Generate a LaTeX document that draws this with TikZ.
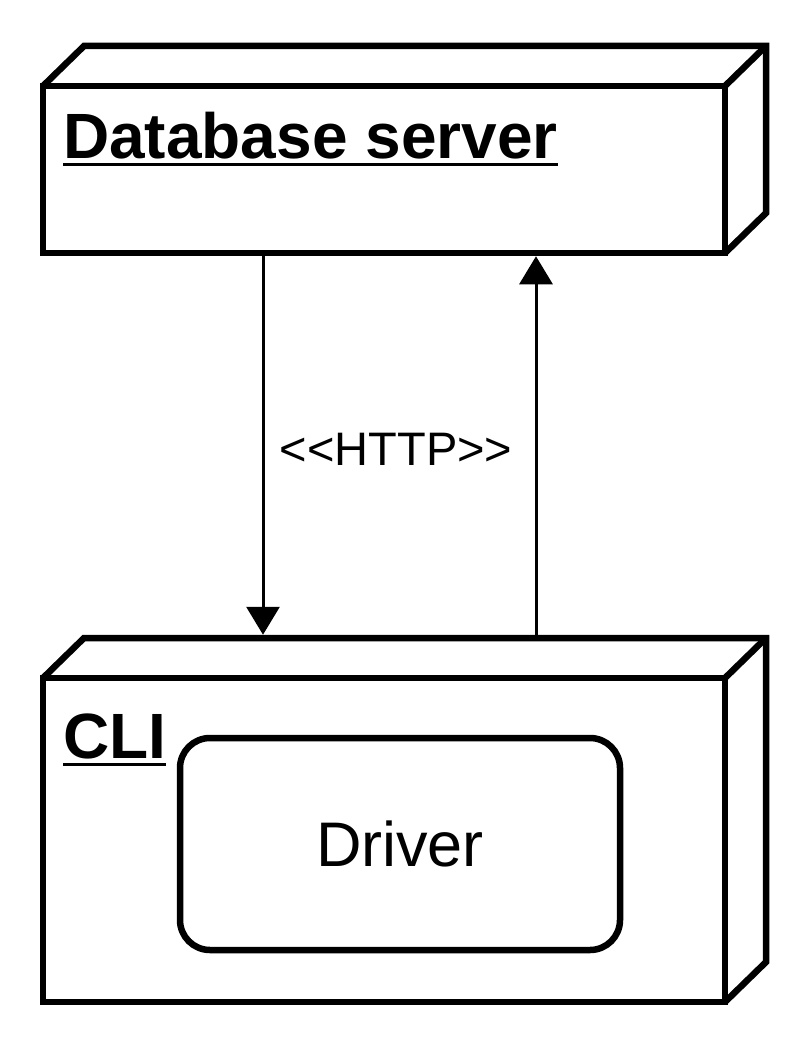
\documentclass[tikz,border=0pt]{standalone}
\usepackage{fontspec}
\setmainfont{Liberation Sans}
\newfontfamily\plainsans[Ligatures=TeXOff]{Liberation Sans}
\usetikzlibrary{arrows.meta,calc}
\begin{document}
\begin{tikzpicture}[x=1pt,y=-1pt,
  front/.style={draw,line width=6.5pt,line join=miter,rectangle,inner sep=0pt,outer sep=0pt,minimum width=682pt},
  side/.style={draw,line width=6.5pt,line join=miter},
  title/.style={anchor=base west,inner sep=0pt,font=\fontsize{64}{70}\selectfont\bfseries},
  uline/.style={line width=3pt},
  comp/.style={draw,line width=6.5pt,rounded corners=30pt,inner sep=0pt,minimum width=440pt,minimum height=212pt,font=\fontsize{63}{70}\selectfont},
  conn/.style={line width=3pt,-{Triangle[length=28pt,width=33pt]}},
  lbl/.style={anchor=base,inner sep=0pt,font=\plainsans\fontsize{47}{52}\selectfont}
]
\useasboundingbox (0,0) rectangle (802,1054);
% Database server node
\node[front,minimum height=167pt] (db) at (384,169.5) {};
\draw[side] (db.north west) -- ($(db.north west)+(41,-40)$) -- ($(db.north east)+(41,-40)$) -- ($(db.south east)+(41,-40)$) -- (db.south east);
\draw[side] (db.north east) -- ($(db.north east)+(41,-40)$);
\node[title] (dbt) at (63,158) {Database server};
\draw[uline] ([yshift=-6pt]dbt.base west) -- ([yshift=-6pt]dbt.base east);
% CLI node
\node[front,minimum height=324pt] (cli) at (384,840) {};
\draw[side] (cli.north west) -- ($(cli.north west)+(41,-40)$) -- ($(cli.north east)+(41,-40)$) -- ($(cli.south east)+(41,-40)$) -- (cli.south east);
\draw[side] (cli.north east) -- ($(cli.north east)+(41,-40)$);
\node[title] (clit) at (63,758) {CLI};
\draw[uline] ([yshift=-6pt]clit.base west) -- ([yshift=-6pt]clit.base east);
% Driver component
\node[comp] (drv) at (400,844) {Driver};
% connectors
\coordinate (dbbot) at ($(db.south)+(0,3.25)$);
\coordinate (clibk) at ($(cli.north)+(0,-40)$);
\coordinate (clibkedge) at ($(cli.north)+(0,-43.25)$);
\coordinate (d1) at ($(db.south)+(-121,0)$);
\coordinate (u1) at ($(clibk)+(152,0)$);
\draw[conn] (d1) -- (d1 |- clibkedge);
\draw[conn] (u1) -- (u1 |- dbbot);
\node[lbl] (http) at (396,465) {<<HTTP>>};
\end{tikzpicture}
\end{document}
